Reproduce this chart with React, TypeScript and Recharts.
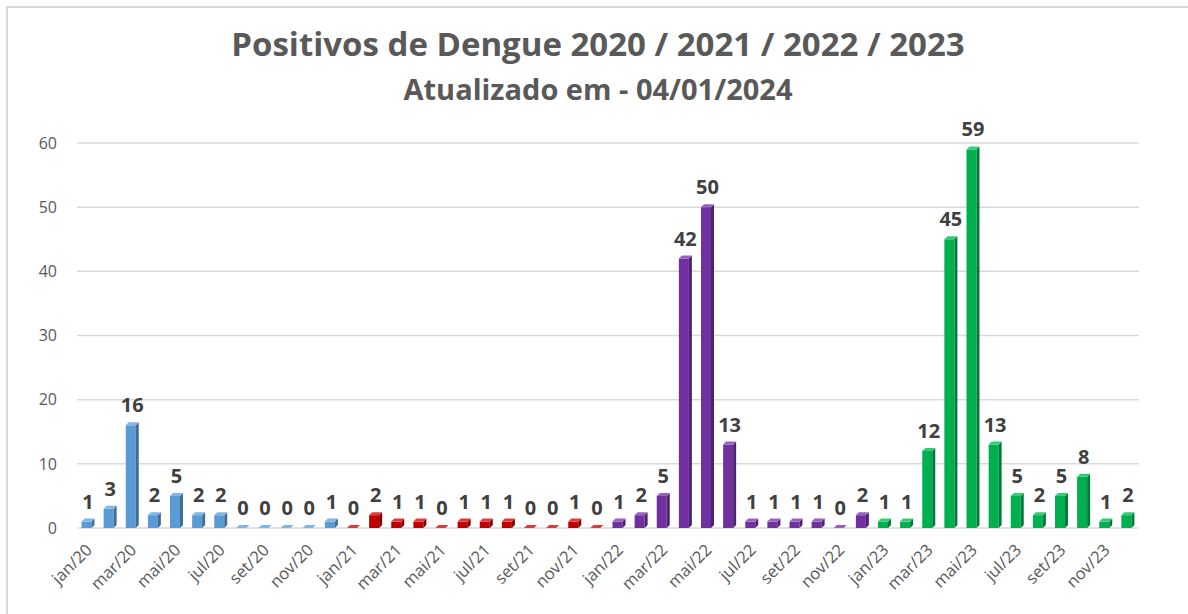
import React from 'react';
import { BarChart, Bar, XAxis, YAxis, CartesianGrid, Cell, LabelList } from 'recharts';

const months = ['jan', 'fev', 'mar', 'abr', 'mai', 'jun', 'jul', 'ago', 'set', 'out', 'nov', 'dez'];
const years = ['20', '21', '22', '23'];
const values2020 = [1, 3, 16, 2, 5, 2, 2, 0, 0, 0, 0, 1];
const values2021 = [0, 2, 1, 1, 0, 1, 1, 1, 0, 0, 1, 0];
const values2022 = [1, 2, 5, 42, 50, 13, 1, 1, 1, 1, 0, 2];
const values2023 = [1, 1, 12, 45, 59, 13, 5, 2, 5, 8, 1, 2];
const yearColors = ['#5b9bd5', '#c00000', '#7030a0', '#00b050'];
const yTicks = [0, 10, 20, 30, 40, 50, 60];

const allValues = [values2020, values2021, values2022, values2023];
const data = allValues.flatMap((vals, yi) =>
  vals.map((v, mi) => ({ label: `${months[mi]}/${years[yi]}`, v, color: yearColors[yi] }))
);

function shade(hex: string, f: number) {
  const n = parseInt(hex.slice(1), 16);
  let r = (n >> 16) & 255, g = (n >> 8) & 255, b = n & 255;
  if (f < 0) {
    r = Math.round(r * (1 + f)); g = Math.round(g * (1 + f)); b = Math.round(b * (1 + f));
  } else {
    r = Math.round(r + (255 - r) * f); g = Math.round(g + (255 - g) * f); b = Math.round(b + (255 - b) * f);
  }
  return `rgb(${r},${g},${b})`;
}

const Bar3D = (props: any) => {
  const { x, y, width, height, payload } = props;
  const c = payload.color;
  const d = 3;
  const xx = x - 1.5;
  const h = Math.max(height, 0);
  return (
    <g>
      <rect x={xx} y={y} width={width} height={h} fill={c} />
      <polygon
        points={`${xx + width},${y} ${xx + width + d},${y - d} ${xx + width + d},${y + h - d} ${xx + width},${y + h}`}
        fill={shade(c, -0.3)}
      />
      <polygon
        points={`${xx},${y} ${xx + d},${y - d} ${xx + width + d},${y - d} ${xx + width},${y}`}
        fill={shade(c, 0.25)}
      />
    </g>
  );
};

const XTick = (props: any) => {
  const { x, y, payload } = props;
  const tx = x + 5;
  const ty = y + 15;
  return (
    <text
      x={tx}
      y={ty}
      transform={`rotate(-45, ${tx}, ${ty})`}
      textAnchor="end"
      fontSize={16.5}
      fill="#595959"
      fontFamily="'Open Sans', sans-serif"
    >
      {payload.value}
    </text>
  );
};

export default function App() {
  return (
    <div style={{ position: 'absolute', left: 0, top: 0, width: 1188, height: 614, background: '#fff', overflow: 'hidden' }}>
      <div style={{ position: 'absolute', left: 6, top: 6, width: 1200, height: 700, border: '2px solid #d9d9d9', boxSizing: 'border-box' }} />
      <div
        style={{
          position: 'absolute', left: 0, top: 22, width: 1196, textAlign: 'center',
          fontFamily: "'Open Sans', sans-serif", fontWeight: 700, fontSize: 33, color: '#595959', lineHeight: '44px',
        }}
      >
        Positivos de Dengue 2020 / 2021 / 2022 / 2023
      </div>
      <div
        style={{
          position: 'absolute', left: 0, top: 70, width: 1196, textAlign: 'center',
          fontFamily: "'Open Sans', sans-serif", fontWeight: 700, fontSize: 29, color: '#595959', lineHeight: '38px',
        }}
      >
        Atualizado em - 04/01/2024
      </div>
      <div style={{ position: 'absolute', left: 0, top: 0 }}>
        <BarChart
          width={1188}
          height={614}
          data={data}
          margin={{ top: 143, right: 49, bottom: 0, left: 0 }}
          barCategoryGap={0}
        >
          <CartesianGrid horizontal vertical={false} stroke="#d9d9d9" strokeWidth={1.5} />
          <XAxis
            dataKey="label"
            interval={1}
            height={86}
            axisLine={false}
            tickLine={false}
            tick={<XTick />}
          />
          <YAxis
            width={77}
            domain={[0, 60]}
            ticks={yTicks}
            axisLine={false}
            tickLine={false}
            tickMargin={14}
            tick={{ fontSize: 16, fill: '#595959', fontFamily: "'Open Sans', sans-serif" }}
          />
          <Bar dataKey="v" barSize={10} shape={<Bar3D />} isAnimationActive={false}>
            {data.map((d, i) => (
              <Cell key={i} fill={d.color} />
            ))}
            <LabelList
              dataKey="v"
              position="top"
              offset={13}
              style={{ fontSize: 20, fontWeight: 700, fill: '#404040', fontFamily: "'Open Sans', sans-serif" }}
            />
          </Bar>
        </BarChart>
      </div>
    </div>
  );
}
